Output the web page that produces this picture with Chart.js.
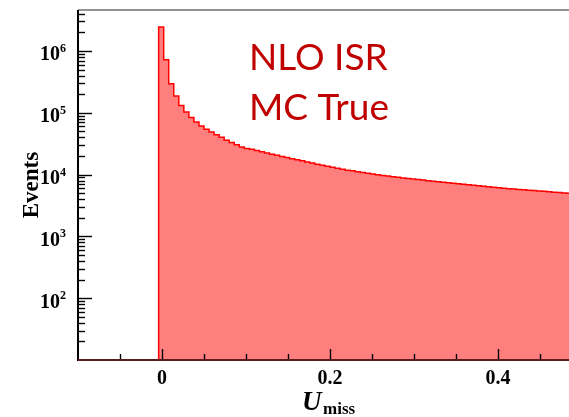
<!DOCTYPE html>
<html>
<head>
<meta charset="utf-8">
<script src="https://cdn.jsdelivr.net/npm/chart.js@4/dist/chart.umd.min.js"></script>
<style>
html, body { margin: 0; padding: 0; background: #fff; overflow: hidden; }
#wrap { width: 590px; height: 417px; }
</style>
</head>
<body>
<div id="wrap"><canvas id="chartCanvas" width="590" height="417"></canvas></div>
<script>
// histogram binning: 100 bins from -0.1 to 0.5
const binStart = -0.1;
const binWidth = 0.006;

// events per bin (first 16 bins are empty)
const counts = [
    0, 0, 0, 0, 0, 0, 0, 0, 0, 0, 0, 0, 0, 0, 0, 0,
    2450000, 720000, 295000, 186000, 131000, 103000, 84000, 71000, 61000, 54000,
    49000, 44000, 40000, 36000, 33000, 30400, 28000, 26500, 25700, 24600,
    23500, 22400, 21400, 20500, 19600, 18900, 18100, 17400, 16700, 16000,
    15400, 14700, 14200, 13600, 13100, 12700, 12200, 11800, 11500, 11100,
    10800, 10500, 10200, 9950, 9700, 9450, 9200, 9050, 8800, 8650,
    8460, 8300, 8150, 7970, 7820, 7670, 7500, 7360, 7220, 7090,
    6990, 6860, 6730, 6600, 6490, 6370, 6250, 6140, 6030, 5910,
    5820, 5730, 5670, 5590, 5520, 5440, 5360, 5280, 5200, 5130,
    5050, 4990, 4930, 4880
];

const xMin = -0.1, xMax = 0.5;
const yMin = 10, yMax = 4.6e6;

const xMajorTicks = [0, 0.2, 0.4];
const xTickLabels = ['0', '0.2', '0.4'];
const yDecades = [2, 3, 4, 5, 6];

const labelLines = ['NLO ISR', 'MC True'];

// step points at the lower edge of each bin, plus the closing edge
const points = counts.map((c, k) => ({ x: binStart + k * binWidth, y: c > 0 ? c : yMin }));
points.push({ x: binStart + counts.length * binWidth, y: counts[counts.length - 1] });

const serif = '"Liberation Serif", "Times New Roman", serif';

const frame = {
    id: 'frame',
    afterDatasetsDraw(chart) {
        const c = chart.ctx;
        const a = chart.chartArea;
        const xs = chart.scales.x, ys = chart.scales.y;
        c.save();

        // top frame
        c.strokeStyle = '#6e6e6e';
        c.lineWidth = 1.5;
        c.beginPath(); c.moveTo(a.left, a.top); c.lineTo(a.right, a.top); c.stroke();

        // y ticks (inside)
        c.strokeStyle = '#000';
        c.lineWidth = 1.4;
        for (let d = 1; d <= 6; d++) {
            for (let m = 1; m <= 9; m++) {
                const v = m * Math.pow(10, d);
                if (v <= yMin || v > yMax) continue;
                const y = Math.round(ys.getPixelForValue(v)) + 0.5;
                const len = m === 1 ? 14 : 7;
                c.beginPath(); c.moveTo(a.left, y); c.lineTo(a.left + len, y); c.stroke();
            }
        }

        // x ticks (inside)
        for (let i = -1; i <= 9; i++) {
            const v = i * 0.05;
            const x = Math.round(xs.getPixelForValue(v)) + 0.5;
            const major = i % 4 === 0;
            const len = major ? 11 : 6;
            c.beginPath(); c.moveTo(x, a.bottom); c.lineTo(x, a.bottom - len); c.stroke();
        }

        // axis lines
        c.lineWidth = 2;
        c.strokeStyle = '#000';
        c.beginPath(); c.moveTo(a.left, a.top); c.lineTo(a.left, a.bottom + 1); c.stroke();
        c.strokeStyle = '#5c1c1c';
        c.beginPath(); c.moveTo(a.left, a.bottom); c.lineTo(a.right, a.bottom); c.stroke();

        // y tick labels 10^n
        c.fillStyle = '#000';
        yDecades.forEach(d => {
            const y = ys.getPixelForValue(Math.pow(10, d));
            c.font = 'bold 20px ' + serif;
            c.textAlign = 'right';
            c.textBaseline = 'alphabetic';
            c.fillText('10', 60, y + 9.5);
            c.font = 'bold 12px ' + serif;
            c.textAlign = 'left';
            c.fillText(String(d), 60, y + 1);
        });

        // x tick labels
        c.font = 'bold 20px ' + serif;
        c.textAlign = 'center';
        xMajorTicks.forEach((v, i) => {
            c.fillText(xTickLabels[i], xs.getPixelForValue(v), 383.5);
        });

        // axis titles
        c.font = 'italic bold 27px ' + serif;
        c.textAlign = 'left';
        c.fillText('U', 302, 410);
        c.font = 'bold 17px ' + serif;
        c.fillText('miss', 323, 414);

        c.save();
        c.translate(38, 185);
        c.rotate(-Math.PI / 2);
        c.font = 'bold 23px ' + serif;
        c.textAlign = 'center';
        c.fillText('Events', 0, 0);
        c.restore();

        // annotation
        c.fillStyle = '#c00000';
        c.font = '37px Lato, "Open Sans", sans-serif';
        c.textAlign = 'left';
        c.fillText(labelLines[0], 249, 70);
        c.fillText(labelLines[1], 249, 120);

        c.restore();
    }
};

const ctx = document.getElementById('chartCanvas').getContext('2d');

const chart = new Chart(ctx, {
    type: 'line',
    data: {
        datasets: [{
            data: points,
            stepped: true,
            borderColor: '#ff0000',
            borderWidth: 1.5,
            backgroundColor: 'rgba(255, 0, 0, 0.5)',
            fill: 'start',
            pointRadius: 0
        }]
    },
    options: {
        responsive: false,
        animation: false,
        layout: { padding: { left: 78, top: 10, right: 8, bottom: 57 } },
        plugins: {
            legend: { display: false },
            tooltip: { enabled: false }
        },
        scales: {
            x: { type: 'linear', min: xMin, max: xMax, display: false },
            y: { type: 'logarithmic', min: yMin, max: yMax, display: false }
        }
    },
    plugins: [frame]
});
</script>
</body>
</html>
